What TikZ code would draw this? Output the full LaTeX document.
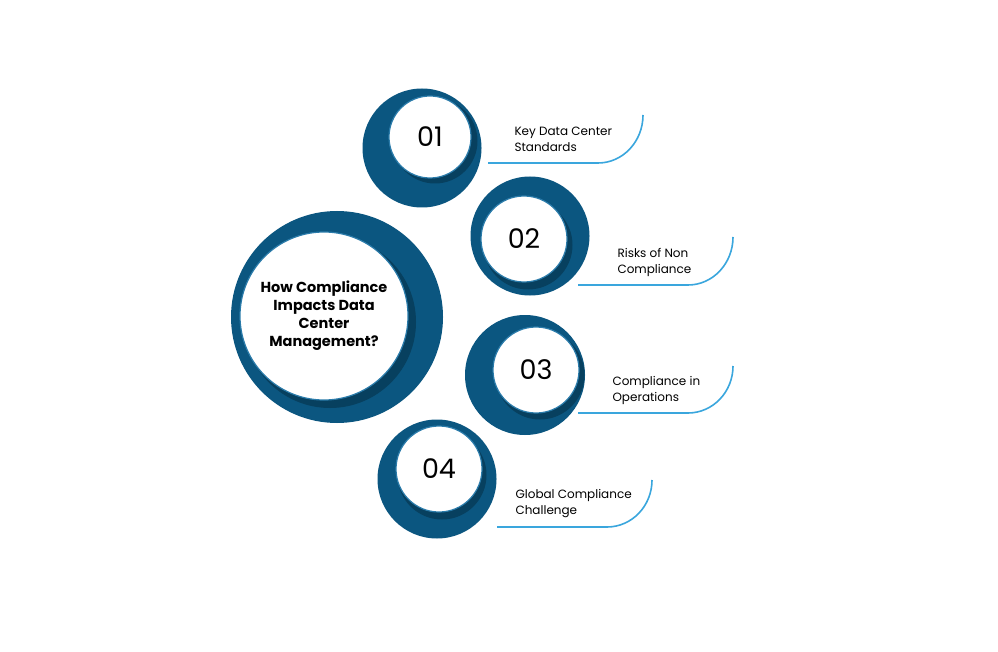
\documentclass[tikz,border=0pt]{standalone}
\usepackage{fontspec}
\setmainfont{Poppins}
\usepackage{tikz}
\usetikzlibrary{positioning, calc}
\definecolor{deepblue}{HTML}{0B5680}
\definecolor{shadeblue}{HTML}{07405F}
\definecolor{rimblue}{HTML}{2A7BAA}
\definecolor{skyline}{HTML}{3AA6DD}

\begin{document}
\begin{tikzpicture}[
        x=1pt, y=-1pt,
        outer/.style={circle, fill=deepblue, minimum size=#1, inner sep=0pt},
        shade/.style={circle, fill=shadeblue, minimum size=#1, inner sep=0pt},
        inner/.style={circle, fill=white, draw=rimblue, line width=1.2pt, minimum size=#1, inner sep=0pt, font=\fontsize{27}{27}\selectfont},
        label/.style={align=left, anchor=west, font=\fontsize{12}{16}\selectfont},
        line/.style={draw=skyline, line width=1.6pt}
    ]
        \useasboundingbox[fill=white] (0,0) rectangle (998,652);

        % central circle
        \node[outer=212pt] (hub) at (337,317) {};
        \node[shade=172pt] (hubsh) at (330,322) {};
        \node[inner=168pt, align=center, font=\bfseries\fontsize{14.5}{18}\selectfont] (title) at (324,316) {How Compliance\\Impacts Data\\Center\\Management?};

        % numbered circles
        \node[outer=119pt] (c1) at (422,148) {};
        \node[shade=85pt] (s1) at (435,141) {};
        \node[inner=82pt] (n1) at (430,137) {01};

        \node[outer=119pt] (c2) at (530,236) {};
        \node[shade=89pt] (s2) at (528,245) {};
        \node[inner=86pt] (n2) at (524,239) {02};

        \node[outer=120pt] (c3) at (525,375) {};
        \node[shade=89pt] (s3) at (540,375) {};
        \node[inner=86pt] (n3) at (536,370) {03};

        \node[outer=119pt] (c4) at (437,479) {};
        \node[shade=89pt] (s4) at (442,475) {};
        \node[inner=86pt] (n4) at (439,469) {04};

        % labels
        \node[label] (l1) at (511,139) {Key Data Center\\Standards};
        \node[label] (l2) at (614,262) {Risks of Non\\Compliance};
        \node[label] (l3) at (609,390) {Compliance in\\Operations};
        \node[label] (l4) at (512,504) {Global Compliance\\Challenge};

        % underline curves
        \coordinate (b1) at (488,163);
        \coordinate (b2) at (578,285);
        \coordinate (b3) at (578,413);
        \coordinate (b4) at (497,527);
        \draw[line] (b1) -- ++(110,0) arc[start angle=90, end angle=0, x radius=45pt, y radius=-48pt];
        \draw[line] (b2) -- ++(110,0) arc[start angle=90, end angle=0, x radius=45pt, y radius=-48pt];
        \draw[line] (b3) -- ++(110,0) arc[start angle=90, end angle=0, x radius=45pt, y radius=-47pt];
        \draw[line] (b4) -- ++(110,0) arc[start angle=90, end angle=0, x radius=45pt, y radius=-47pt];
    \end{tikzpicture}
\end{document}
